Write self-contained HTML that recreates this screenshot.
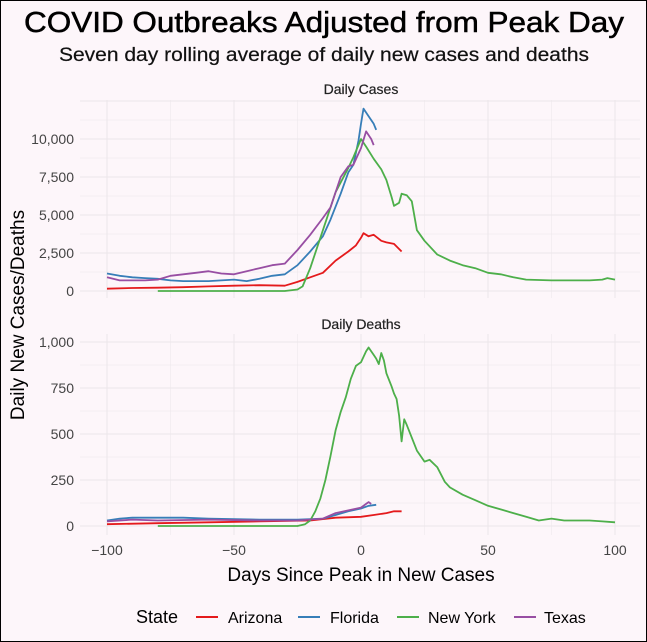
<!DOCTYPE html>
<html><head><meta charset="utf-8"><style>
html,body{margin:0;padding:0;background:#fdf6fa}
svg{display:block;font-family:"Liberation Sans",sans-serif}
</style></head><body>
<svg id="chart" width="647" height="642" viewBox="0 0 647 642">
<rect x="0.5" y="0.5" width="646" height="641" fill="#fdf6fa" stroke="#000"/>
<text x="324" y="32" text-anchor="middle" font-size="29" textLength="600" lengthAdjust="spacingAndGlyphs" fill="#000" stroke="#000" stroke-width="0.5">COVID Outbreaks Adjusted from Peak Day</text>
<text x="324" y="61" text-anchor="middle" font-size="19" textLength="530" lengthAdjust="spacingAndGlyphs" fill="#111" stroke="#111" stroke-width="0.2">Seven day rolling average of daily new cases and deaths</text>
<text x="361" y="94" text-anchor="middle" font-size="14" fill="#222" stroke="#222" stroke-width="0.2">Daily Cases</text>
<text x="361" y="329" text-anchor="middle" font-size="14" fill="#222" stroke="#222" stroke-width="0.2">Daily Deaths</text>
<text transform="translate(24,315) rotate(-90)" text-anchor="middle" font-size="19" fill="#000">Daily New Cases/Deaths</text>
<text x="361" y="581" text-anchor="middle" font-size="19" fill="#000">Days Since Peak in New Cases</text>
<g id="grid"></g><g id="series"></g><g id="ticks"></g>
<g>
<text x="136" y="623" font-size="18" fill="#000">State</text>
<g><line x1="196" y1="617" x2="218" y2="617" stroke="#e41a1c" stroke-width="2"/><text x="228" y="623" font-size="16" fill="#000">Arizona</text></g>
<g><line x1="298" y1="617" x2="320" y2="617" stroke="#377eb8" stroke-width="2"/><text x="330" y="623" font-size="16" fill="#000">Florida</text></g>
<g><line x1="397" y1="617" x2="419" y2="617" stroke="#4daf4a" stroke-width="2"/><text x="428" y="623" font-size="16" fill="#000">New York</text></g>
<g><line x1="514" y1="617" x2="536" y2="617" stroke="#984ea3" stroke-width="2"/><text x="544" y="623" font-size="16" fill="#000">Texas</text></g>
</g>
</svg>
<script>
const xTicks=[-100,-50,0,50,100];
const caseTicks=[0,2500,5000,7500,10000];
const caseTickLabels=["0","2,500","5,000","7,500","10,000"];
const deathTicks=[0,250,500,750,1000];
const deathTickLabels=["0","250","500","750","1,000"];
const azCaseDays=[-100,-90,-80,-70,-60,-50,-40,-30,-25,-20,-15,-10,-5,-2,0,1,3,5,8,10,13,16];
const azCases=[150,200,220,250,300,350,380,350,600,900,1200,2000,2600,3000,3500,3800,3600,3700,3300,3200,3100,2600];
const flCaseDays=[-100,-95,-90,-85,-80,-75,-70,-60,-55,-50,-45,-40,-35,-30,-25,-20,-15,-12,-8,-5,-3,-1,0,1,3,5,6];
const flCases=[1150,1000,900,850,800,700,650,650,700,750,650,800,1000,1100,1700,2600,3600,4700,6400,7800,8300,9900,11000,12000,11500,11000,10600];
const txCaseDays=[-100,-95,-85,-80,-75,-70,-65,-60,-55,-50,-45,-40,-35,-30,-25,-20,-15,-12,-8,-5,-3,0,2,4,5];
const txCases=[900,700,700,750,1000,1100,1200,1300,1150,1100,1300,1500,1700,1800,2700,3700,4800,5500,7500,8200,8300,9400,10500,10000,9600];
const nyCaseDays=[-80,-30,-25,-23,-20,-15,-10,-5,-3,0,2,5,8,10,12,13,15,16,18,20,22,25,30,35,40,45,50,55,60,65,75,85,90,95,97,100];
const nyCases=[0,0,100,300,1500,4000,6500,8100,8800,10000,9500,8700,8000,7300,6200,5600,5800,6400,6300,5900,4000,3300,2400,2000,1700,1500,1200,1100,900,750,700,700,700,750,850,750];
const azDeathDays=[-100,-80,-60,-40,-20,-10,0,5,10,13,16];
const azDeaths=[10,15,20,25,30,45,50,60,70,80,80];
const flDeathDays=[-100,-95,-90,-80,-70,-60,-40,-25,-15,-10,-5,0,3,6];
const flDeaths=[30,40,45,45,45,40,35,35,40,60,80,95,110,115];
const txDeathDays=[-100,-90,-80,-60,-40,-25,-15,-10,-5,0,2,3,4];
const txDeaths=[25,35,30,35,30,30,40,70,85,100,120,130,120];
const nyDeathDays=[-80,-25,-22,-20,-18,-16,-14,-12,-10,-8,-6,-4,-2,0,2,3,5,6,7,8,9,10,12,13,14,15,16,17,18,20,22,25,27,30,33,35,40,45,50,55,60,65,70,75,80,85,90,95,100];
const nyDeaths=[0,0,10,30,80,150,250,380,520,620,700,800,870,890,950,970,930,910,880,940,900,830,760,720,690,600,460,580,550,480,410,350,360,320,240,210,170,140,110,90,70,50,30,40,30,30,30,25,20];

const NS="http://www.w3.org/2000/svg";
const X=d=>361+d*2.54;
const YC=v=>291-v*0.0152;
const YD=v=>526-v*0.184;
const grid=document.getElementById('grid'),ser=document.getElementById('series'),tk=document.getElementById('ticks');
function mk(t,a,p){const e=document.createElementNS(NS,t);for(const k in a)e.setAttribute(k,a[k]);p.appendChild(e);return e;}
const panels=[{top:100,bot:298,Y:YC,ticks:caseTicks,labels:caseTickLabels,step:1250,max:12500},{top:334,bot:535,Y:YD,ticks:deathTicks,labels:deathTickLabels,step:125,max:1000}];
panels.forEach((p,pi)=>{
  for(let v=0;v<=p.max;v+=p.step){const y=p.Y(v);if(y<p.top)continue;
    const l=mk('line',{x1:80,x2:640,y1:y,y2:y,stroke:'#ece6ea','stroke-width':v%(p.step*2)===0?1:0.5},grid);
    
    }
  for(let d=-100;d<=100;d+=25){const l=mk('line',{x1:X(d),x2:X(d),y1:p.top,y2:p.bot,stroke:'#ece6ea','stroke-width':d%50===0?1:0.5},grid);
    
    }
  p.ticks.forEach((v,i)=>{const t=mk('text',{x:74,y:p.Y(v)+5,'text-anchor':'end','font-size':14,fill:'#444'},tk);t.textContent=p.labels[i];
    
    });
});
xTicks.forEach(d=>{const t=mk('text',{x:X(d),y:555,'text-anchor':'middle','font-size':14,fill:'#444'},tk);t.textContent=String(d).replace('-','−');
  
  });
const series=[
 [azCaseDays,azCases,YC,'#e41a1c','arizona-cases'],[flCaseDays,flCases,YC,'#377eb8','florida-cases'],
 [nyCaseDays,nyCases,YC,'#4daf4a','new-york-cases'],[txCaseDays,txCases,YC,'#984ea3','texas-cases'],
 [azDeathDays,azDeaths,YD,'#e41a1c','arizona-deaths'],[flDeathDays,flDeaths,YD,'#377eb8','florida-deaths'],
 [nyDeathDays,nyDeaths,YD,'#4daf4a','new-york-deaths'],[txDeathDays,txDeaths,YD,'#984ea3','texas-deaths']];
series.forEach(s=>{const pts=s[0].map((d,i)=>X(d).toFixed(1)+','+s[2](s[1][i]).toFixed(1)).join(' ');
  const pl=mk('polyline',{points:pts,fill:'none',stroke:s[3],'stroke-width':1.8,'stroke-linejoin':'round'},ser);
  
  });
</script>
</body></html>
